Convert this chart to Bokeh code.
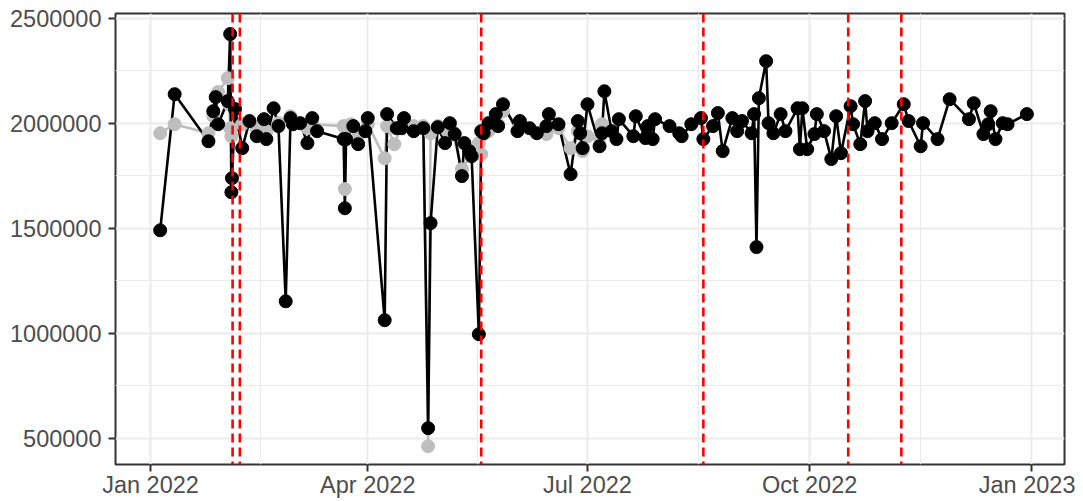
import pandas as pd
from bokeh.plotting import figure
from bokeh.models import Range1d, FixedTicker, DatetimeTickFormatter, BasicTickFormatter, Span
from bokeh.embed import file_html
from bokeh.resources import INLINE

# ---------------- data ----------------
black_dates = ["2022-01-05", "2022-01-11", "2022-01-25", "2022-01-27", "2022-01-28", "2022-01-29",
               "2022-02-02", "2022-02-03", "2022-02-03 12:00", "2022-02-03 18:00", "2022-02-05",
               "2022-02-08", "2022-02-11", "2022-02-14", "2022-02-17", "2022-02-18", "2022-02-21",
               "2022-02-23", "2022-02-26", "2022-02-28", "2022-03-01", "2022-03-04", "2022-03-07",
               "2022-03-09", "2022-03-11", "2022-03-22", "2022-03-22 12:00", "2022-03-23",
               "2022-03-26", "2022-03-28", "2022-03-31", "2022-04-01", "2022-04-08", "2022-04-09",
               "2022-04-13", "2022-04-15", "2022-04-16", "2022-04-20", "2022-04-24", "2022-04-26",
               "2022-04-27", "2022-04-30", "2022-05-03", "2022-05-05", "2022-05-07", "2022-05-10",
               "2022-05-11", "2022-05-13", "2022-05-14", "2022-05-17", "2022-05-18", "2022-05-19",
               "2022-05-21", "2022-05-24", "2022-05-25", "2022-05-27", "2022-06-02", "2022-06-03",
               "2022-06-07", "2022-06-10", "2022-06-14", "2022-06-15", "2022-06-19", "2022-06-24",
               "2022-06-27", "2022-06-28", "2022-06-29", "2022-07-01", "2022-07-06", "2022-07-07",
               "2022-07-08", "2022-07-11", "2022-07-13", "2022-07-14", "2022-07-20", "2022-07-21",
               "2022-07-25", "2022-07-26", "2022-07-28", "2022-07-29", "2022-08-04", "2022-08-08",
               "2022-08-09", "2022-08-13", "2022-08-17", "2022-08-18", "2022-08-22", "2022-08-24",
               "2022-08-26", "2022-08-30", "2022-09-01", "2022-09-03", "2022-09-07", "2022-09-08",
               "2022-09-09", "2022-09-10", "2022-09-13", "2022-09-14", "2022-09-16", "2022-09-19",
               "2022-09-21", "2022-09-26", "2022-09-27", "2022-09-28", "2022-09-30", "2022-10-03",
               "2022-10-04", "2022-10-07", "2022-10-10", "2022-10-12", "2022-10-14", "2022-10-18",
               "2022-10-19", "2022-10-22", "2022-10-24", "2022-10-25", "2022-10-28", "2022-10-31",
               "2022-11-04", "2022-11-09", "2022-11-11", "2022-11-16", "2022-11-17", "2022-11-23",
               "2022-11-28", "2022-12-06", "2022-12-08", "2022-12-12", "2022-12-14", "2022-12-15",
               "2022-12-17", "2022-12-20", "2022-12-22", "2022-12-30"]
black_values = [1490000, 2138000, 1914000, 2057000, 2124000, 1995000, 2105000, 2424000, 1671000, 1738000,
                2067000, 1881000, 2010000, 1938000, 2019000, 1924000, 2071000, 1986000, 1152000, 2024000,
                1995000, 2000000, 1905000, 2024000, 1962000, 1924000, 1595000, 1924000, 1986000, 1900000,
                1962000, 2024000, 1062000, 2043000, 1976000, 1976000, 2024000, 1962000, 1976000, 548000,
                1524000, 1981000, 1905000, 2000000, 1948000, 1748000, 1905000, 1867000, 1843000, 995000,
                1962000, 1952000, 2000000, 2043000, 1986000, 2090000, 1962000, 2010000, 1976000, 1952000,
                1986000, 2043000, 1995000, 1757000, 2010000, 1952000, 1881000, 2090000, 1890000, 1952000,
                2152000, 1962000, 1924000, 2019000, 1938000, 2033000, 1929000, 1986000, 1924000, 2019000,
                1986000, 1952000, 1938000, 1995000, 2024000, 1924000, 1986000, 2048000, 1867000, 2024000,
                1962000, 2010000, 1952000, 2043000, 1410000, 2119000, 2295000, 2000000, 1952000, 2043000,
                1962000, 2071000, 1876000, 2071000, 1876000, 1948000, 2043000, 1962000, 1829000, 2033000,
                1857000, 2081000, 1995000, 1900000, 2105000, 1962000, 2000000, 1924000, 2000000, 2090000,
                2010000, 1890000, 2000000, 1924000, 2114000, 2019000, 2095000, 1948000, 1995000, 2057000,
                1924000, 2000000, 1995000, 2043000]

grey_dates = ["2022-01-05", "2022-01-11", "2022-01-25", "2022-01-27", "2022-01-29", "2022-02-02",
              "2022-02-02 12:00", "2022-02-03", "2022-02-03 12:00", "2022-02-08", "2022-02-14",
              "2022-02-18", "2022-02-23", "2022-02-28", "2022-03-07", "2022-03-09", "2022-03-22",
              "2022-03-22 12:00", "2022-03-23", "2022-03-25", "2022-03-28", "2022-04-01", "2022-04-08",
              "2022-04-09", "2022-04-12", "2022-04-15", "2022-04-20", "2022-04-24", "2022-04-26",
              "2022-04-27", "2022-04-30", "2022-05-04", "2022-05-06", "2022-05-10", "2022-05-17",
              "2022-05-18", "2022-05-19", "2022-05-21", "2022-05-25", "2022-05-27", "2022-06-03",
              "2022-06-14", "2022-06-19", "2022-06-24", "2022-06-27", "2022-06-29", "2022-07-01",
              "2022-07-06", "2022-07-07"]
grey_values = [1952000, 1995000, 1952000, 2033000, 2148000, 2214000, 2090000, 1976000, 1938000, 1995000,
               1971000, 1962000, 2000000, 2033000, 1976000, 1995000, 1986000, 1686000, 1976000, 1995000,
               1938000, 1995000, 1833000, 1986000, 1900000, 1986000, 1986000, 1986000, 462000, 1952000,
               1986000, 1962000, 1962000, 1781000, 1905000, 1852000, 1948000, 1962000, 1995000, 2057000,
               1986000, 1948000, 1976000, 1881000, 1962000, 1867000, 1938000, 1929000, 1995000]

event_dates = ["2022-02-04", "2022-02-07", "2022-05-18", "2022-08-18", "2022-10-17", "2022-11-08"]

x_tick_dates = ["2022-01-01", "2022-04-01", "2022-07-01", "2022-10-01", "2023-01-01"]
x_minor_dates = ["2021-11-16", "2022-02-15 12:00", "2022-05-16 12:00", "2022-08-16", "2022-11-16", "2023-02-15"]
y_ticks = [500000, 1000000, 1500000, 2000000, 2500000]
y_minor = [250000, 750000, 1250000, 1750000, 2250000, 2750000]


def ms(s):
    return pd.Timestamp(s).value // 10**6


bd = pd.to_datetime(black_dates, format="mixed")
gd = pd.to_datetime(grey_dates, format="mixed")

p = figure(width=1075, height=500, x_axis_type="datetime",
           output_backend="svg", toolbar_location=None,
           x_range=Range1d(ms("2021-12-17 12:00"), ms("2023-01-14 14:00")),
           y_range=Range1d(375000, 2522000),
           min_border_left=115, min_border_right=11, min_border_top=13, min_border_bottom=30)

xt = FixedTicker(ticks=[ms(d) for d in x_tick_dates], minor_ticks=[ms(d) for d in x_minor_dates])
yt = FixedTicker(ticks=y_ticks, minor_ticks=y_minor)
p.xaxis.ticker = xt
p.yaxis.ticker = yt
p.xgrid.ticker = xt
p.ygrid.ticker = yt

fmt = "%b %Y"
p.xaxis.formatter = DatetimeTickFormatter(years=fmt, months=fmt, days=fmt, hours=fmt, minutes=fmt,
                                          seconds=fmt, milliseconds=fmt, microseconds=fmt,
                                          hourmin=fmt, minsec=fmt)
p.yaxis.formatter = BasicTickFormatter(use_scientific=False)

for g in (p.xgrid, p.ygrid):
    g.grid_line_color = "#EBEBEB"
    g.grid_line_width = 2
    g.minor_grid_line_color = "#EBEBEB"
    g.minor_grid_line_width = 1.2

p.outline_line_color = "#333333"
p.outline_line_width = 2
p.background_fill_color = "white"
p.border_fill_color = "white"

for ax in (p.xaxis, p.yaxis):
    ax.axis_line_color = None
    ax.major_tick_line_color = "#333333"
    ax.major_tick_line_width = 2
    ax.major_tick_out = 7
    ax.major_tick_in = 0
    ax.minor_tick_line_color = None
    ax.major_label_text_color = "#4D4D4D"
    ax.major_label_text_font = "Liberation Sans"
    ax.major_label_text_font_size = "23.5px"
p.yaxis.major_label_standoff = 7
p.xaxis.major_label_standoff = 0

p.line(gd, grey_values, color="#BEBEBE", line_width=2.6)
p.line(bd, black_values, color="black", line_width=2.6)
p.scatter(gd, grey_values, size=13, color="#BEBEBE")
p.scatter(bd, black_values, size=13, color="black")

for d in event_dates:
    p.add_layout(Span(location=ms(d), dimension="height", line_color="#FF0000",
                      line_dash="9 5", line_width=2.6))

open("out.html", "w").write(file_html(p, INLINE))
